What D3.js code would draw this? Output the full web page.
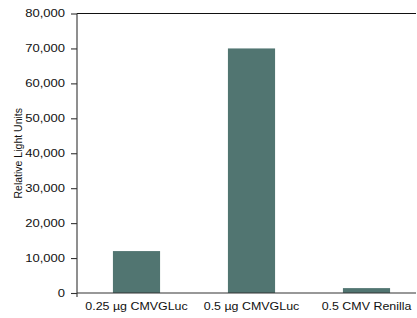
<!DOCTYPE html>
<html><head><meta charset="utf-8">
<script src="https://cdn.jsdelivr.net/npm/d3@7"></script>
<style>body{margin:0;background:#fff}svg{display:block}text{font-family:"Liberation Sans",Arial,Helvetica,sans-serif}</style>
</head><body><svg id="c" width="417" height="318"></svg>
<script>
const categories = ["0.25 µg CMVGLuc", "0.5 µg CMVGLuc", "0.5 CMV Renilla"];
const values = [12000, 70000, 1400];
const yTicks = [0, 10000, 20000, 30000, 40000, 50000, 60000, 70000, 80000];
const yLabel = "Relative Light Units";

(function () {
const svg = d3.select("#c");
const mL = 77, mR = 416, mT = 13.5, mB = 293;
const x = d3.scaleBand().domain(categories).range([79, 424]).paddingInner(0.59).paddingOuter(0.295);
const y = d3.scaleLinear().domain([0, 80000]).range([mB, mT]);

function stretch(sel, f) {
  sel.each(function () {
    const w = this.getComputedTextLength();
    d3.select(this).attr("textLength", w * f).attr("lengthAdjust", "spacingAndGlyphs");
  });
}

svg.append("g").selectAll("rect").data(values).join("rect")
  .attr("x", (d, i) => x(categories[i]))
  .attr("width", x.bandwidth())
  .attr("y", d => y(d))
  .attr("height", d => y(0) - y(d))
  .attr("fill", "#517571");

svg.append("line").attr("x1", mL).attr("x2", mR).attr("y1", mT).attr("y2", mT)
  .attr("stroke", "#111").attr("stroke-width", 1.2);

const yAxis = svg.append("g").attr("transform", `translate(${mL},0)`)
  .call(d3.axisLeft(y).tickValues(yTicks).tickFormat(d3.format(",")).tickSize(6).tickPadding(6));
yAxis.select(".domain").attr("d", `M0,${mT}V${mB + 4}`);
yAxis.selectAll("line, path").attr("stroke", "#333").attr("stroke-width", 1.1);
yAxis.selectAll("text").attr("font-size", 10.5).attr("fill", "#111").call(stretch, 1.24);

const xAxis = svg.append("g").attr("transform", `translate(0,${mB})`)
  .call(d3.axisBottom(x).tickSize(0).tickPadding(8.5));
xAxis.select(".domain").attr("d", `M${mL},0H${mR}`).attr("stroke", "#333").attr("stroke-width", 1.1);
xAxis.selectAll("text").attr("font-size", 11.5).attr("fill", "#111").call(stretch, 1.08);

svg.append("text").attr("transform", `translate(21.5,${(mT + mB) / 2}) rotate(-90)`)
  .attr("text-anchor", "middle").attr("font-size", 10.5).attr("fill", "#111").text(yLabel);
})();
</script></body></html>
